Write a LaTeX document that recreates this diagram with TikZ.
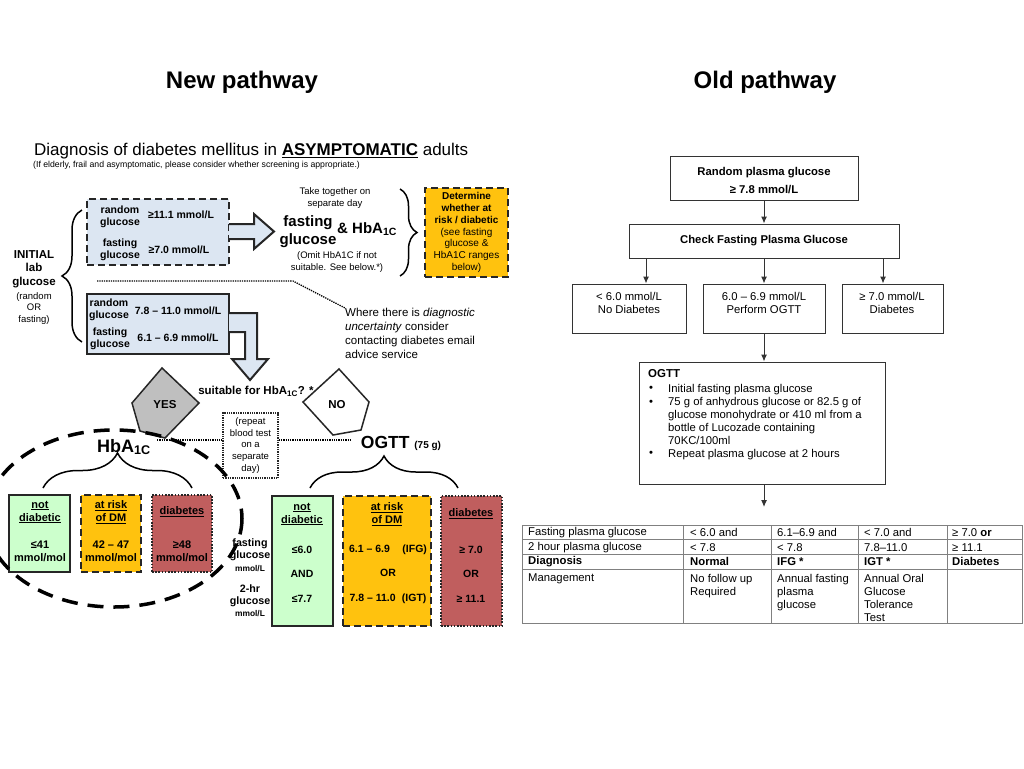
\documentclass[tikz,border=0pt]{standalone}
\usepackage{fontspec}
\setmainfont{Liberation Sans}
\usetikzlibrary{decorations.pathreplacing,arrows.meta}
\definecolor{paleblue}{RGB}{220,230,242}
\definecolor{amber}{RGB}{255,194,14}
\definecolor{brick}{RGB}{192,94,94}
\definecolor{mint}{RGB}{204,255,204}
\definecolor{stone}{RGB}{191,191,191}
\begin{document}
\begin{tikzpicture}[x=1pt,y=-1pt,
	every node/.style={inner sep=0pt,align=center},
	heading/.style={font=\fontsize{24}{28}\selectfont\bfseries},
	note/.style={font=\fontsize{9.5}{12}\selectfont},
	boxtxt/.style={font=\fontsize{10.5}{12.3}\selectfont\bfseries},
	catxt/.style={font=\fontsize{11}{13}\selectfont\bfseries},
	ogtxt/.style={font=\fontsize{10.5}{24.5}\selectfont\bfseries},
	sidetxt/.style={font=\fontsize{10.7}{12}\selectfont\bfseries},
	unittxt/.style={font=\fontsize{8.4}{10}\selectfont\bfseries},
	oldtxt/.style={font=\fontsize{11.3}{13}\selectfont},
	thickdash/.style={line width=2pt,dash pattern=on 7pt off 4pt},
	thickdot/.style={line width=2pt,dash pattern=on 1.6pt off 1.6pt},
	bluebox/.style={draw=black!85,fill=paleblue,line width=2pt},
	ambox/.style={draw=black!85,fill=amber},
	redbox/.style={draw=black!85,fill=brick},
	mintbox/.style={draw=black!85,fill=mint,line width=2pt},
	penta/.style={draw=black!85,line width=1.5pt},
	pentatxt/.style={font=\fontsize{11.5}{14}\selectfont\bfseries},
	flowbox/.style={draw=black!80,line width=1pt},
	arr/.style={-{Latex[length=7pt,width=6pt]},line width=1pt,draw=black!80},
	gridline/.style={draw=black!50,line width=1pt},
	curly/.style={decorate,decoration={brace,amplitude=#1},line width=1.5pt}]
	\useasboundingbox[fill=white] (0,0) rectangle (1024,768);
	\node[heading] (newhead) at (242,82) {New pathway};
	\node[heading] (oldhead) at (765,82) {Old pathway};
	\node[font=\fontsize{17}{20}\selectfont,anchor=west] (title) at (34,151) {Diagnosis of diabetes mellitus in \textbf{\underline{ASYMPTOMATIC}} adults};
	\node[font=\fontsize{8.7}{10}\selectfont,anchor=west] (subtitle) at (33,165) {(If elderly, frail and asymptomatic, please consider whether screening is appropriate.)};
	\node[font=\fontsize{11.5}{13.5}\selectfont\bfseries] (initial) at (34,269) {INITIAL\\lab\\glucose};
	\node[font=\fontsize{9.5}{11.5}\selectfont] (anysample) at (34,308.5) {(random\\OR\\fasting)};
	\draw[curly=20pt] (82,342) -- (82,210);
	\node[bluebox,thickdash,minimum width=142pt,minimum height=66pt] (hibox) at (158,232) {};
	\node[boxtxt] (rndhi) at (120,217) {random\\glucose};
	\node[boxtxt] (rndhival) at (181,215) {≥11.1 mmol/L};
	\node[boxtxt] (fsthi) at (120,250) {fasting\\glucose};
	\node[boxtxt] (fsthival) at (179,250) {≥7.0 mmol/L};
	\filldraw[fill=paleblue,draw=black!85,line width=2pt] (229,224) -- (254,224) -- (254,214) -- (274,231.5) -- (254,249) -- (254,239) -- (229,239);
	\node[note] (together) at (335,198) {Take together on\\separate day};
	\node[font=\fontsize{15}{18}\selectfont\bfseries] (fastglu) at (308,232) {fasting\\glucose};
	\node[font=\fontsize{15}{18}\selectfont\bfseries,anchor=west] (andhba) at (337,229) {\& HbA\textsubscript{1C}};
	\node[note] (omit) at (337,262) {(Omit HbA1C if not\\suitable. See below.*)};
	\draw[curly=17pt] (400,189) -- (400,276);
	\node[ambox,thickdash,minimum width=83pt,minimum height=89pt,font=\fontsize{10}{11.7}\selectfont] (riskbox) at (466.5,232.5) {\textbf{Determine}\\\textbf{whether at}\\\textbf{risk / diabetic}\\(see fasting\\glucose \&\\HbA1C ranges\\below)};
	\coordinate (dotstart) at (97,281);
	\node[font=\fontsize{11.5}{14}\selectfont,align=left,anchor=north west] (advice) at (345,308) {Where there is \textit{diagnostic}\\\textit{uncertainty} consider\\contacting diabetes email\\advice service};
	\draw[densely dotted,line width=1.3pt] (dotstart) -- (293,281) -- (advice.north west);
	\node[bluebox,minimum width=142pt,minimum height=60pt] (midbox) at (158,324) {};
	\node[boxtxt] (rndmid) at (109,310) {random\\glucose};
	\node[boxtxt] (rndmidval) at (178,311) {7.8 – 11.0 mmol/L};
	\node[boxtxt] (fstmid) at (110,339) {fasting\\glucose};
	\node[boxtxt] (fstmidval) at (178,338) {6.1 – 6.9 mmol/L};
	\filldraw[fill=paleblue,draw=black!85,line width=2pt] (229,313) -- (257,313) -- (257,359) -- (268,359) -- (250,380) -- (232,359) -- (245,359) -- (245,332) -- (229,332);
	\filldraw[penta,fill=stone] (162,368) -- (199,403) -- (165,438) -- (140,431) -- (132,403) -- cycle;
	\node[pentatxt] (yes) at (165,405) {YES};
	\filldraw[penta,fill=white] (339,369) -- (369,402) -- (361,430) -- (333,435) -- (303,402) -- cycle;
	\node[pentatxt] (no) at (337,405) {NO};
	\node[font=\fontsize{11.5}{14}\selectfont\bfseries] (suitable) at (256,391) {suitable for HbA\textsubscript{1C}? *};
	\node[draw=black!85,densely dotted,line width=1.3pt,minimum width=55pt,minimum height=65pt,font=\fontsize{9.5}{11.6}\selectfont] (repeat) at (250.5,445.5) {(repeat\\blood test\\on a\\separate\\day)};
	\coordinate (yesfoot) at (157,440);
	\coordinate (nofoot) at (350,440);
	\draw[densely dotted,line width=1.3pt] (yesfoot) -- (yesfoot -| repeat.west);
	\draw[densely dotted,line width=1.3pt] (repeat.east |- nofoot) -- (nofoot);
	\node[font=\fontsize{18}{20}\selectfont\bfseries] (hbahead) at (124,447) {HbA\textsubscript{1C}};
	\node[font=\fontsize{17.5}{20}\selectfont\bfseries] (ogtthead) at (401,443) {OGTT {\fontsize{10}{12}\selectfont (75 g)}};
	\draw[curly=35pt] (43,488) -- (192,488);
	\draw[curly=32pt] (310,488) -- (458,488);
	\node[mintbox,minimum width=61pt,minimum height=77pt] (hnot) at (39.5,533.5) {};
	\node[ambox,thickdash,minimum width=60pt,minimum height=77pt] (hrisk) at (111,533.5) {};
	\node[redbox,thickdot,minimum width=60pt,minimum height=77pt] (hdiab) at (182,533.5) {};
	\node[catxt] (hnottxt) at (40,512) {\underline{not}\\\underline{diabetic}};
	\node[catxt] (hnotval) at (40,551) {≤41\\mmol/mol};
	\node[catxt] (hrisktxt) at (111,512) {\underline{at risk}\\\underline{of DM}};
	\node[catxt] (hriskval) at (111,551) {42 – 47\\mmol/mol};
	\node[catxt] (hdiabtxt) at (182,512) {\underline{diabetes}};
	\node[catxt] (hdiabval) at (182,551) {≥48\\mmol/mol};
	\node[mintbox,minimum width=61pt,minimum height=130pt] (onot) at (302.5,561) {};
	\node[ambox,thickdash,minimum width=88pt,minimum height=130pt] (orisk) at (387,561) {};
	\node[redbox,thickdot,minimum width=61pt,minimum height=130pt] (odiab) at (471.5,561) {};
	\node[catxt] (onottxt) at (302,514) {\underline{not}\\\underline{diabetic}};
	\node[ogtxt] (onotval) at (302,574) {≤6.0\\AND\\≤7.7};
	\node[catxt] (orisktxt) at (387,514) {\underline{at risk}\\\underline{of DM}};
	\node[ogtxt] (oriskval) at (388,574) {6.1 – 6.9\hspace{1.2em}(IFG)\\OR\\7.8 – 11.0\hspace{0.6em}(IGT)};
	\node[catxt] (odiabtxt) at (471,514) {\underline{diabetes}};
	\node[ogtxt] (odiabval) at (471,574) {≥ 7.0\\OR\\≥ 11.1};
	\node[sidetxt] (fstlab) at (250,550) {fasting\\glucose};
	\node[unittxt] (fstunit) at (250,569) {mmol/L};
	\node[sidetxt] (twohrlab) at (250,595.5) {2-hr\\glucose};
	\node[unittxt] (twohrunit) at (250,614) {mmol/L};
	\draw[line width=3.5pt,dash pattern=on 16pt off 10pt] (114,518.5) ellipse [x radius=128,y radius=88.5];
	\node[flowbox,minimum width=188pt,minimum height=44pt] (rpg) at (764,178) {};
	\node[font=\fontsize{11.3}{18}\selectfont\bfseries] (rpgtxt) at (764,180.5) {Random plasma glucose\\≥ 7.8 mmol/L};
	\node[flowbox,font=\fontsize{11.3}{13}\selectfont\bfseries,minimum width=270pt,minimum height=34pt] (cfpg) at (764,241) {Check Fasting Plasma Glucose};
	\node[flowbox,minimum width=114pt,minimum height=49pt] (nodiab) at (629,308.5) {};
	\node[flowbox,minimum width=122pt,minimum height=49pt] (ogttdo) at (764,308.5) {};
	\node[flowbox,minimum width=101pt,minimum height=49pt] (isdiab) at (892.5,308.5) {};
	\node[oldtxt] (nodiabtxt) at (629,302.5) {< 6.0 mmol/L\\No Diabetes};
	\node[oldtxt] (ogttdotxt) at (764,302.5) {6.0 – 6.9 mmol/L\\Perform OGTT};
	\node[oldtxt] (isdiabtxt) at (892,302.5) {≥ 7.0 mmol/L\\Diabetes};
	\draw[arr] (rpg) -- (cfpg);
	\draw[arr] (cfpg.south -| 646,0) -- (nodiab.north -| 646,0);
	\draw[arr] (cfpg.south -| ogttdo) -- (ogttdo.north);
	\draw[arr] (cfpg.south -| 883,0) -- (isdiab.north -| 883,0);
	\node[flowbox,minimum width=246pt,minimum height=122pt] (ogttbox) at (762,423) {};
	\draw[arr] (ogttdo.south) -- (ogttbox.north -| ogttdo.south);
	\node[font=\fontsize{11.5}{13}\selectfont\bfseries,anchor=west] (ogtttitle) at (648,374) {OGTT};
	\node[oldtxt] (bulla) at (651,389) {•};
	\node[oldtxt] (bullb) at (651,403) {•};
	\node[oldtxt] (bullc) at (651,454) {•};
	\node[oldtxt,align=left,anchor=north west] (ogttlist) at (668,384.5) {Initial fasting plasma glucose\\75 g of anhydrous glucose or 82.5 g of\\glucose monohydrate or 410 ml from a\\bottle of Lucozade containing\\70KC/100ml\\Repeat plasma glucose at 2 hours};
	\coordinate (tablehook) at (764,507);
	\draw[arr] (ogttbox.south -| tablehook) -- (tablehook);
	\draw[gridline] (522,525) rectangle (1022,623);
	\draw[gridline] (522,539.5) -- (1022,539.5);
	\draw[gridline] (522,554) -- (1022,554);
	\draw[gridline] (522,569) -- (1022,569);
	\draw[gridline] (683,525) -- (683,623);
	\draw[gridline] (771,525) -- (771,623);
	\draw[gridline] (858,525) -- (858,623);
	\draw[gridline] (947,525) -- (947,623);
	\node[oldtxt,anchor=west] (fpgrow) at (528,532.5) {Fasting plasma glucose};
	\node[oldtxt,anchor=west] (fpgnorm) at (690,532.5) {< 6.0 and};
	\node[oldtxt,anchor=west] (fpgifg) at (777,532.5) {6.1–6.9 and};
	\node[oldtxt,anchor=west] (fpgigt) at (864,532.5) {< 7.0 and};
	\node[oldtxt,anchor=west] (fpgdm) at (952,532.5) {≥ 7.0 \textbf{or}};
	\node[oldtxt,anchor=west] (twohrow) at (528,547.5) {2 hour plasma glucose};
	\node[oldtxt,anchor=west] (twohnorm) at (690,547.5) {< 7.8};
	\node[oldtxt,anchor=west] (twohifg) at (777,547.5) {< 7.8};
	\node[oldtxt,anchor=west] (twohigt) at (864,547.5) {7.8–11.0};
	\node[oldtxt,anchor=west] (twohdm) at (952,547.5) {≥ 11.1};
	\node[font=\fontsize{11.3}{13}\selectfont\bfseries,anchor=west] (dxrow) at (528,561.5) {Diagnosis};
	\node[font=\fontsize{11.3}{13}\selectfont\bfseries,anchor=west] (dxnorm) at (690,561.5) {Normal};
	\node[font=\fontsize{11.3}{13}\selectfont\bfseries,anchor=west] (dxifg) at (777,561.5) {IFG *};
	\node[font=\fontsize{11.3}{13}\selectfont\bfseries,anchor=west] (dxigt) at (864,561.5) {IGT *};
	\node[font=\fontsize{11.3}{13}\selectfont\bfseries,anchor=west] (dxdm) at (952,561.5) {Diabetes};
	\node[oldtxt,align=left,anchor=north west] (mgmtrow) at (528,574) {Management};
	\node[oldtxt,align=left,anchor=north west] (mgmtnorm) at (690,574) {No follow up\\Required};
	\node[oldtxt,align=left,anchor=north west] (mgmtifg) at (777,574) {Annual fasting\\plasma\\glucose};
	\node[oldtxt,align=left,anchor=north west] (mgmtigt) at (864,574) {Annual Oral\\Glucose\\Tolerance\\Test};
\end{tikzpicture}
\end{document}
